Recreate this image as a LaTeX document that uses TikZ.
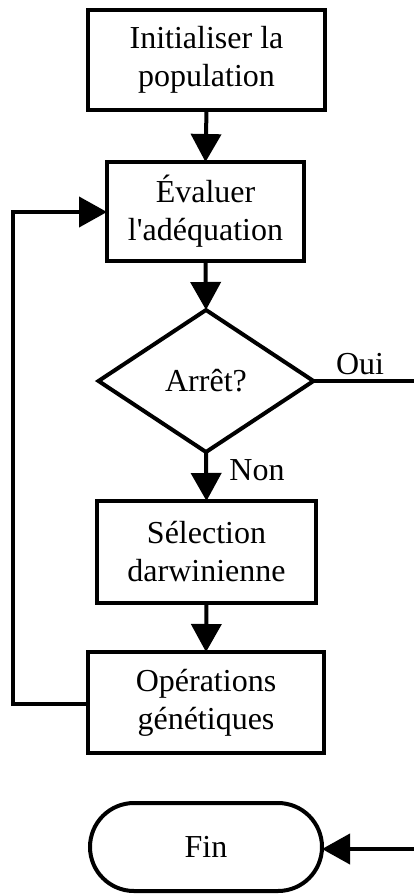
\documentclass[tikz,border=0pt]{standalone}
\usepackage{fontspec}
\setmainfont{Liberation Serif}
\newfontfamily\nomapfont{Liberation Serif}
\usetikzlibrary{shapes.geometric,arrows.meta}
\tikzset{
  base/.style={draw=black, line width=4pt, inner sep=0pt, outer sep=0pt, align=center,
    font=\fontsize{32}{38}\selectfont},
  procbox/.style={base, rectangle},
  decision/.style={base, diamond},
  terminal/.style={base, rectangle, rounded corners=44pt},
  lbl/.style={inner sep=0pt, font=\fontsize{32}{38}\selectfont},
  flow/.style={line width=4pt, -{Triangle[length=28pt,width=30pt]}},
  plain/.style={line width=4pt}
}
\begin{document}
\begin{tikzpicture}[x=1pt,y=-1pt]
\useasboundingbox (0,0) rectangle (414,894);
\node[procbox, minimum width=237pt, minimum height=100pt] (init) at (206.5,60) {Initialiser la\\population};
\node[procbox, minimum width=197pt, minimum height=99pt] (eval) at (205.5,211.5) {Évaluer\\l{\nomapfont\char"27}adéquation};
\node[decision, minimum width=215pt, minimum height=142pt] (stop) at (206,381) {Arrêt?};
\node[procbox, minimum width=219pt, minimum height=102pt] (sel) at (206.5,552) {Sélection\\darwinienne};
\node[procbox, minimum width=236pt, minimum height=101pt] (ops) at (206,702.5) {Opérations\\génétiques};
\node[terminal, minimum width=232pt, minimum height=88pt] (fin) at (206,847) {Fin};
\node[lbl] (oui) at (360,364) {Oui};
\node[lbl] (non) at (257,470) {Non};
\coordinate (ouiend) at (414,381);
\coordinate (finstart) at (414,849);
\coordinate (loopbot) at (13,704);
\coordinate (looptop) at (13,212);
\draw[flow] (init.south) -- (eval.north);
\draw[flow] (eval.south) -- (stop.north);
\draw[flow] (stop.south) -- (sel.north);
\draw[flow] (sel.south) -- (ops.north);
\draw[plain] (stop.east) -- (ouiend);
\draw[flow] (ops.west |- loopbot) -- (loopbot) -- (looptop) -- (eval.west |- looptop);
\draw[flow] (finstart) -- (fin.east |- finstart);
\end{tikzpicture}
\end{document}
